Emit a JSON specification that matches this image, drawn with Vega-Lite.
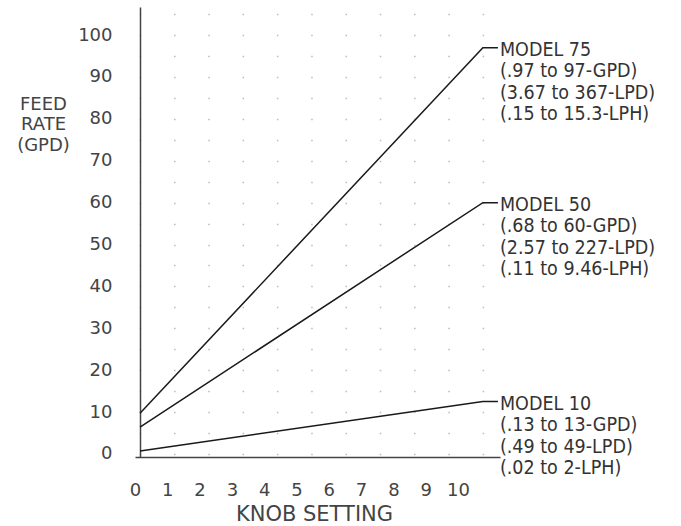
{
  "$schema": "https://vega.github.io/schema/vega-lite/v6.json",
  "width": 365,
  "height": 450,
  "autosize": {"type": "none"},
  "padding": {"left": 135, "top": 7, "right": 181, "bottom": 69},
  "background": "white",
  "config": {
    "view": {"stroke": null},
    "font": "DejaVu Sans",
    "axis": {"labelOverlap": false}
  },
  "datasets": {
    "lines": [
      {"model": "MODEL 75", "knob": 0, "gpd": 9.7},
      {"model": "MODEL 75", "knob": 10, "gpd": 97},
      {"model": "MODEL 75", "knob": 10.44, "gpd": 97},
      {"model": "MODEL 50", "knob": 0, "gpd": 6.4},
      {"model": "MODEL 50", "knob": 10, "gpd": 60},
      {"model": "MODEL 50", "knob": 10.44, "gpd": 60},
      {"model": "MODEL 10", "knob": 0, "gpd": 0.7},
      {"model": "MODEL 10", "knob": 10, "gpd": 12.5},
      {"model": "MODEL 10", "knob": 10.44, "gpd": 12.5}
    ],
    "notes": [
      {"model": "MODEL 75", "text": ["MODEL 75", "(.97 to 97-GPD)", "(3.67 to 367-LPD)", "(.15 to 15.3-LPH)"]},
      {"model": "MODEL 50", "text": ["MODEL 50", "(.68 to 60-GPD)", "(2.57 to 227-LPD)", "(.11 to 9.46-LPH)"]},
      {"model": "MODEL 10", "text": ["MODEL 10", "(.13 to 13-GPD)", "(.49 to 49-LPD)", "(.02 to 2-LPH)"]}
    ]
  },
  "layer": [
    {
      "data": {"name": "lines"},
      "mark": {"type": "line", "color": "#1a1a1a", "strokeWidth": 1.5},
      "encoding": {
        "x": {
          "field": "knob",
          "type": "quantitative",
          "scale": {"domain": [-0.146, 10.5], "nice": false, "zero": false},
          "axis": {
            "values": [-0.146, 0.796, 1.738, 2.68, 3.622, 4.564, 5.506, 6.448, 7.39, 8.332, 9.274],
            "tickCount": 40,
            "labelExpr": "format(round((datum.value + 0.146) / 0.942), 'd')",
            "domainColor": "#444",
            "domainWidth": 1.5,
            "ticks": false,
            "grid": false,
            "labelFont": "DejaVu Sans",
            "labelFontSize": 18,
            "labelColor": "#444",
            "labelPadding": 24,
            "labelFlush": false,
            "labelOverlap": false,
            "labelBound": false,
            "title": "KNOB SETTING",
            "titleFont": "DejaVu Sans",
            "titleFontSize": 21,
            "titleFontWeight": "normal",
            "titleColor": "#444",
            "titleX": 179,
            "titleY": 57,
            "titleAlign": "center",
            "titleBaseline": "middle"
          }
        },
        "y": {
          "field": "gpd",
          "type": "quantitative",
          "scale": {"domain": [-0.72, 106.7], "nice": false, "zero": false},
          "axis": {
            "values": [0, 5, 10, 15, 20, 25, 30, 35, 40, 45, 50, 55, 60, 65, 70, 75, 80, 85, 90, 95, 100, 105],
            "tickCount": 40,
            "offset": -5,
            "labelExpr": "datum.value % 10 === 0 ? datum.label : ''",
            "domainColor": "#444",
            "domainWidth": 1.5,
            "ticks": false,
            "grid": true,
            "gridColor": "#bbbbbb",
            "gridWidth": 1.5,
            "gridDash": [1.5, 32.79],
            "gridDashOffset": -4.25,
            "labelFont": "DejaVu Sans",
            "labelFontSize": 18,
            "labelColor": "#444",
            "labelPadding": 28,
            "labelOverlap": false,
            "labelBound": false,
            "labelFlush": false,
            "title": ["FEED", "RATE", "(GPD)"],
            "titleAngle": 0,
            "titleX": -97,
            "titleY": 88,
            "titleAlign": "center",
            "titleBaseline": "top",
            "titleFont": "DejaVu Sans",
            "titleFontSize": 18,
            "titleFontWeight": "normal",
            "titleLineHeight": 20.5,
            "titleColor": "#444"
          }
        },
        "detail": {"field": "model"}
      }
    },
    {
      "data": {"name": "lines"},
      "transform": [
        {"filter": "datum.knob > 10.1"},
        {"lookup": "model", "from": {"data": {"name": "notes"}, "key": "model", "fields": ["text"]}}
      ],
      "mark": {
        "type": "text",
        "align": "left",
        "baseline": "top",
        "dx": 2,
        "dy": -7,
        "font": "DejaVu Sans Condensed",
        "fontSize": 19.5,
        "lineHeight": 21.5,
        "color": "#333"
      },
      "encoding": {
        "x": {"field": "knob", "type": "quantitative"},
        "y": {"field": "gpd", "type": "quantitative"},
        "text": {"field": "text"}
      }
    },
    {
      "mark": {
        "type": "text",
        "text": "Figure 4",
        "align": "left",
        "baseline": "alphabetic",
        "font": "Liberation Sans",
        "fontSize": 28,
        "color": "#000"
      },
      "encoding": {
        "x": {"datum": 2.07, "type": "quantitative"},
        "y": {"datum": 83.3, "type": "quantitative"}
      }
    }
  ]
}
